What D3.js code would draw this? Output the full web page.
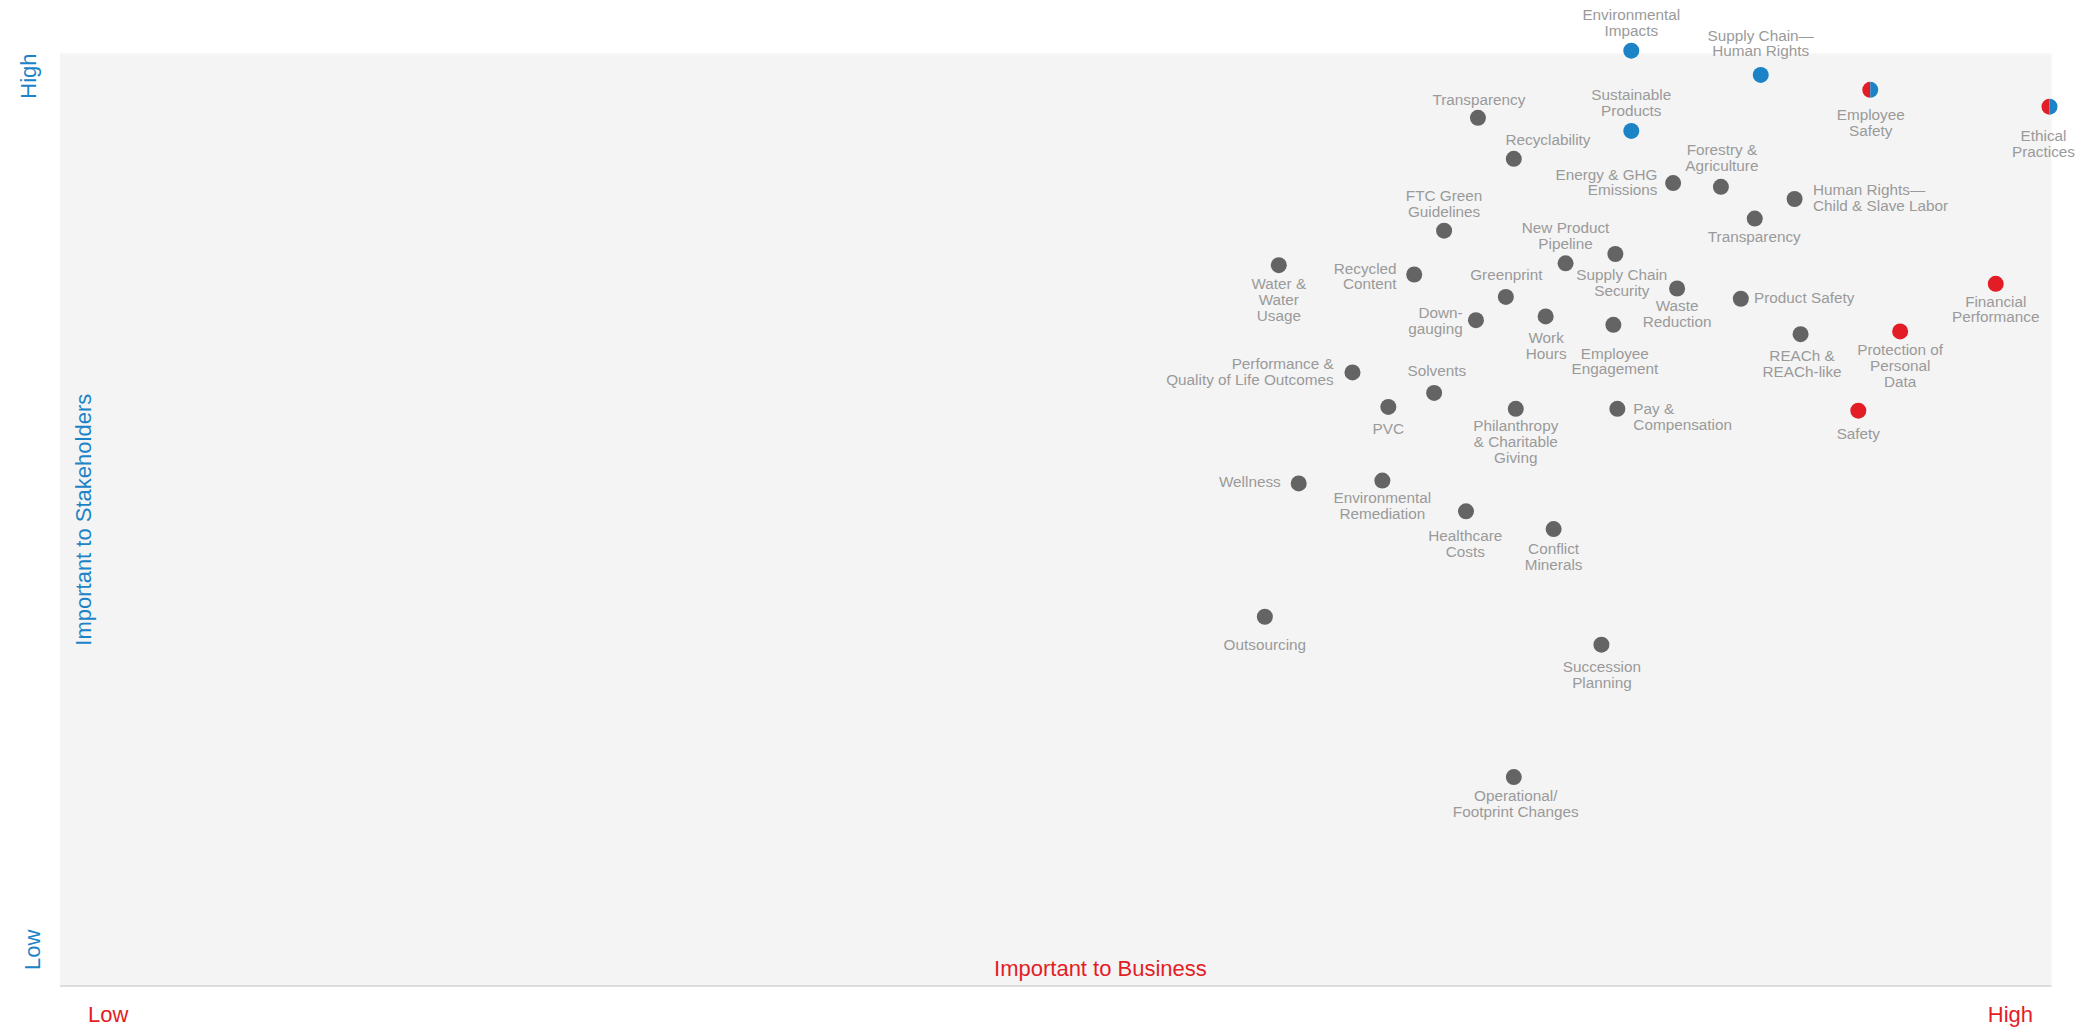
<!DOCTYPE html>
<html>
<head>
<meta charset="utf-8">
<script src="https://cdn.jsdelivr.net/npm/d3@7"></script>
<style>
  html, body { margin: 0; padding: 0; background: #ffffff; }
  svg { display: block; }
  text { font-family: "Liberation Sans", Arial, Helvetica, sans-serif; }
</style>
</head>
<body>
<div id="chart"></div>
<script>
// ---------- DATA ----------
const topics = [
  "Environmental\nImpacts", "Supply Chain—\nHuman Rights", "Sustainable\nProducts",
  "Employee\nSafety", "Ethical\nPractices", "Transparency", "Recyclability",
  "FTC Green\nGuidelines", "Water &\nWater\nUsage", "Recycled\nContent", "Greenprint",
  "Down-\ngauging", "New Product\nPipeline", "Supply Chain\nSecurity", "Energy & GHG\nEmissions",
  "Forestry &\nAgriculture", "Human Rights—\nChild & Slave Labor", "Transparency",
  "Waste\nReduction", "Product Safety", "Work\nHours", "Employee\nEngagement",
  "REACh &\nREACh-like", "Financial\nPerformance", "Protection of\nPersonal\nData", "Safety",
  "Pay &\nCompensation", "Philanthropy\n& Charitable\nGiving",
  "Performance &\nQuality of Life Outcomes", "Solvents", "PVC", "Wellness",
  "Environmental\nRemediation", "Healthcare\nCosts", "Conflict\nMinerals", "Outsourcing",
  "Succession\nPlanning", "Operational/\nFootprint Changes"
];
// Importance to business (x), 0 = low, 100 = high
const business = [
  78.9, 85.4, 78.9, 90.9, 99.9, 71.2, 73.0, 69.5, 61.2, 68.0, 72.6,
  71.1, 75.6, 78.1, 81.0, 83.4, 87.1, 85.1, 81.2, 84.4, 74.6, 78.0,
  87.4, 97.2, 92.4, 90.3, 78.2, 73.1, 64.9, 69.0, 66.7, 62.2,
  66.4, 70.6, 75.0, 60.5, 77.4, 73.0
];
// Importance to stakeholders (y), 0 = low, 100 = high
const stakeholders = [
  100.3, 97.7, 91.7, 96.1, 94.3, 93.1, 88.7, 81.0, 77.3, 76.3, 73.9,
  71.4, 77.5, 78.5, 86.1, 85.7, 84.4, 82.3, 74.8, 73.7, 71.8, 70.9,
  69.9, 75.3, 70.2, 61.7, 61.9, 61.9, 65.8, 63.6, 62.1, 53.9,
  54.2, 50.9, 49.0, 39.6, 36.6, 22.4
];
// which group highlights the topic
const groups = [
  "stakeholders", "stakeholders", "stakeholders", "both", "both", "other", "other",
  "other", "other", "other", "other", "other", "other", "other", "other",
  "other", "other", "other", "other", "other", "other", "other",
  "other", "business", "business", "business", "other", "other",
  "other", "other", "other", "other", "other", "other", "other", "other",
  "other", "other"
];
const axisTickLabels = ["Low", "High"];
const xTitle = "Important to Business";
const yTitle = "Important to Stakeholders";

// ---------- LAYOUT (label placement relative to dot, px) ----------
const labelPlacement = [
  ["middle", 0, -30.5], ["middle", 0, -34.3], ["middle", 0, -31],
  ["middle", 0.5, 30], ["middle", -6, 34.3], ["middle", 1, -12.7], ["start", -8.3, -14],
  ["middle", 0, -29.7], ["middle", 0, 24], ["end", -17.6, -1], ["middle", 0.5, -16.7],
  ["end", -13.3, -2.4], ["middle", 0, -30], ["middle", 6.5, 26.4], ["end", -15.6, -3.5],
  ["middle", 1, -31.7], ["start", 18.4, -3.7], ["middle", -0.5, 23.3],
  ["middle", 0, 23], ["start", 13.2, 4.3], ["middle", 0.5, 26.6], ["middle", 1.5, 33.7],
  ["middle", 1.5, 26.7], ["middle", 0, 22.7], ["middle", 0, 23.7], ["middle", 0, 28],
  ["start", 16, 5], ["middle", 0, 22.7],
  ["end", -18.8, -3], ["middle", 2.7, -16.6], ["middle", 0, 27], ["end", -18, 3.6],
  ["middle", 0, 22.3], ["middle", -0.7, 29.4], ["middle", 0, 25.3], ["middle", 0, 33.3],
  ["middle", 0.5, 27.3], ["middle", 2, 24.3]
];

const W = 2093, H = 1028;
const plot = { left: 60, right: 2051.5, top: 53.5, bottom: 986 };
const COLORS = {
  other: "#646464", stakeholders: "#1b83c6", business: "#e31d25",
  label: "#9a9a9a", bg: "#f4f4f4", baseline: "#dcdcdc"
};
const R = 8, LINE = 15.8;

const svg = d3.select("#chart").append("svg")
  .attr("width", W).attr("height", H);

const x = d3.scaleLinear().domain([0, 100]).range([plot.left, plot.right]);
const y = d3.scaleLinear().domain([0, 100]).range([plot.bottom, plot.top]);

// plot background
svg.append("rect")
  .attr("x", x(0)).attr("y", y(100))
  .attr("width", x(100) - x(0)).attr("height", y(0) - y(100))
  .attr("fill", COLORS.bg);

// bottom axis line
svg.append("line")
  .attr("x1", x(0)).attr("x2", x(100))
  .attr("y1", y(0)).attr("y2", y(0))
  .attr("stroke", COLORS.baseline).attr("stroke-width", 2);

// axis titles
svg.append("text")
  .attr("x", (x(0) + x(100)) / 2 + 44.7).attr("y", y(0) - 10.3)
  .attr("text-anchor", "middle").attr("font-size", 22)
  .attr("fill", COLORS.business).text(xTitle);

svg.append("text")
  .attr("transform", `translate(${x(0) + 31},${(y(0) + y(100)) / 2}) rotate(-90)`)
  .attr("text-anchor", "middle").attr("font-size", 22)
  .attr("fill", COLORS.stakeholders).text(yTitle);

// x "axis" end labels
svg.append("text")
  .attr("x", x(0) + 48.3).attr("y", y(0) + 36.3)
  .attr("text-anchor", "middle").attr("font-size", 22)
  .attr("fill", COLORS.business).text(axisTickLabels[0]);
svg.append("text")
  .attr("x", x(100) - 18.5).attr("y", y(0) + 36.3)
  .attr("text-anchor", "end").attr("font-size", 22)
  .attr("fill", COLORS.business).text(axisTickLabels[1]);

// y "axis" end labels
svg.append("text")
  .attr("transform", `translate(${x(0) - 20},${y(0) - 16}) rotate(-90)`)
  .attr("text-anchor", "start").attr("font-size", 22)
  .attr("fill", COLORS.stakeholders).text(axisTickLabels[0]);
svg.append("text")
  .attr("transform", `translate(${x(0) - 24},${y(100)}) rotate(-90)`)
  .attr("text-anchor", "end").attr("font-size", 22)
  .attr("fill", COLORS.stakeholders).text(axisTickLabels[1]);

// data rows
const rows = topics.map((t, i) => ({
  topic: t, bx: business[i], sy: stakeholders[i], group: groups[i], place: labelPlacement[i]
}));

// labels
const labels = svg.append("g").selectAll("text").data(rows).join("text")
  .attr("font-size", 15.3)
  .attr("fill", COLORS.label)
  .attr("text-anchor", d => d.place[0])
  .attr("x", d => x(d.bx) + d.place[1])
  .attr("y", d => y(d.sy) + d.place[2]);
labels.each(function (d) {
  const t = d3.select(this);
  d.topic.split("\n").forEach((ln, k) => {
    t.append("tspan")
      .attr("x", x(d.bx) + d.place[1])
      .attr("y", y(d.sy) + d.place[2] + k * LINE)
      .text(ln);
  });
});

// dots
const dots = svg.append("g");
dots.selectAll("circle.single").data(rows.filter(d => d.group !== "both")).join("circle")
  .attr("class", "single")
  .attr("cx", d => x(d.bx)).attr("cy", d => y(d.sy)).attr("r", R)
  .attr("fill", d => COLORS[d.group]);

const half = d3.arc().innerRadius(0).outerRadius(R);
const both = dots.selectAll("g.both").data(rows.filter(d => d.group === "both")).join("g")
  .attr("class", "both")
  .attr("transform", d => `translate(${x(d.bx)},${y(d.sy)})`);
both.append("path")
  .attr("d", half({ startAngle: Math.PI, endAngle: 2 * Math.PI }))
  .attr("fill", COLORS.business);
both.append("path")
  .attr("d", half({ startAngle: 0, endAngle: Math.PI }))
  .attr("fill", COLORS.stakeholders);
</script>
</body>
</html>
